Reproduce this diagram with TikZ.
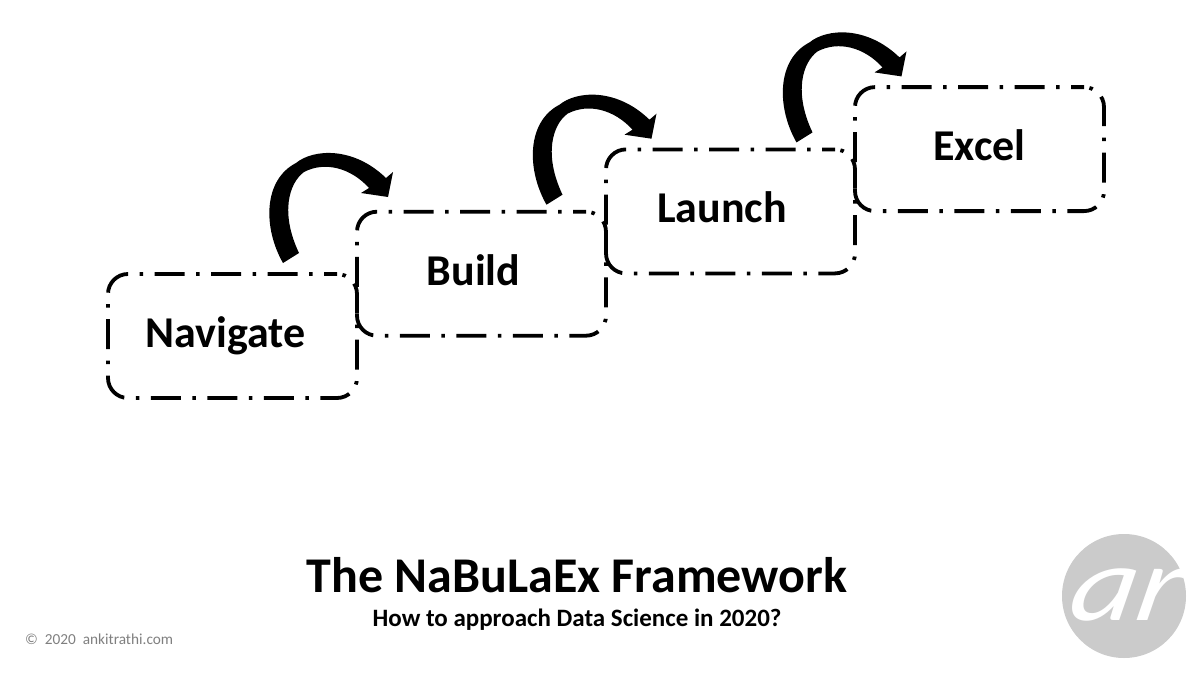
\documentclass[tikz,border=0pt]{standalone}
\usepackage{fontspec}
\setsansfont{Carlito}
\usetikzlibrary{positioning}
\definecolor{logogray}{HTML}{CBCBCB}
\definecolor{notegray}{HTML}{7F7F7F}

\begin{document}
\begin{tikzpicture}[x=1pt, y=-1pt, node distance=0pt, font=\sffamily\bfseries]
    \tikzstyle{stepbox} = [draw, rectangle, rounded corners=20pt, minimum width=249pt, minimum height=124pt, outer sep=0pt, line width=3.8pt, dash pattern=on 30pt off 11.5pt on 3.5pt off 11.5pt, dash phase=17pt]
    \tikzstyle{steplabel} = [anchor=base, font=\sffamily\bfseries\fontsize{44}{52}\selectfont]
    \tikzset{hop/.pic={
        \fill (0,0) .. controls (-20,-35) and (-20,-83) .. (13,-100) .. controls (30,-114) and (70,-117) .. (103,-85) -- (110,-91) -- (105,-66) -- (78,-70) -- (86,-75) .. controls (68,-95) and (42,-102) .. (21,-91) .. controls (6,-80) and (-3,-50) .. (16,-10) -- cycle;
    }}

    \useasboundingbox (0,0) rectangle (1200,675);

    \node [stepbox] (navigate) at (232.5,336) {};
    \node [stepbox, right=of navigate, yshift=62.3pt] (build) {};
    \node [stepbox, right=of build, yshift=62.3pt] (launch) {};
    \node [stepbox, right=of launch, yshift=62.3pt] (excel) {};

    \node [steplabel] (navigatetext) at ([xshift=-7pt,yshift=-11pt]navigate.center) {Navigate};
    \node [steplabel] (buildtext) at ([xshift=-8pt,yshift=-12pt]build.center) {Build};
    \node [steplabel] (launchtext) at ([xshift=-8.5pt,yshift=-11pt]launch.center) {Launch};
    \node [steplabel] (exceltext) at ([xshift=0pt,yshift=-11pt]excel.center) {Excel};

    \pic (hopa) at ([xshift=50.5pt,yshift=11pt]navigate.north) {hop};
    \pic (hopb) at ([xshift=65pt,yshift=7pt]build.north) {hop};
    \pic (hopc) at ([xshift=66pt,yshift=7pt]launch.north) {hop};

    \node [anchor=base, font=\sffamily\bfseries\fontsize{50}{58}\selectfont] (title) at (577,592) {The NaBuLaEx Framework};
    \node [anchor=base, font=\sffamily\bfseries\fontsize{25}{30}\selectfont] (subtitle) at (577,626) {How to approach Data Science in 2020?};
    \node [anchor=base west, inner sep=0pt, text=notegray, font=\sffamily\mdseries\fontsize{15.3}{18}\selectfont] (note) at (25,644) {©\ \ 2020\ \ ankitrathi.com};

    \node [circle, fill=logogray, minimum size=124pt, inner sep=0pt] (logo) at (1124,596) {};
    \node [anchor=base, text=white, font=\sffamily\mdseries\itshape\addfontfeature{FakeStretch=1.2,FakeSlant=0.2}\fontsize{107}{110}\selectfont] (logotext) at (1122,620) {ar};
\end{tikzpicture}
\end{document}
